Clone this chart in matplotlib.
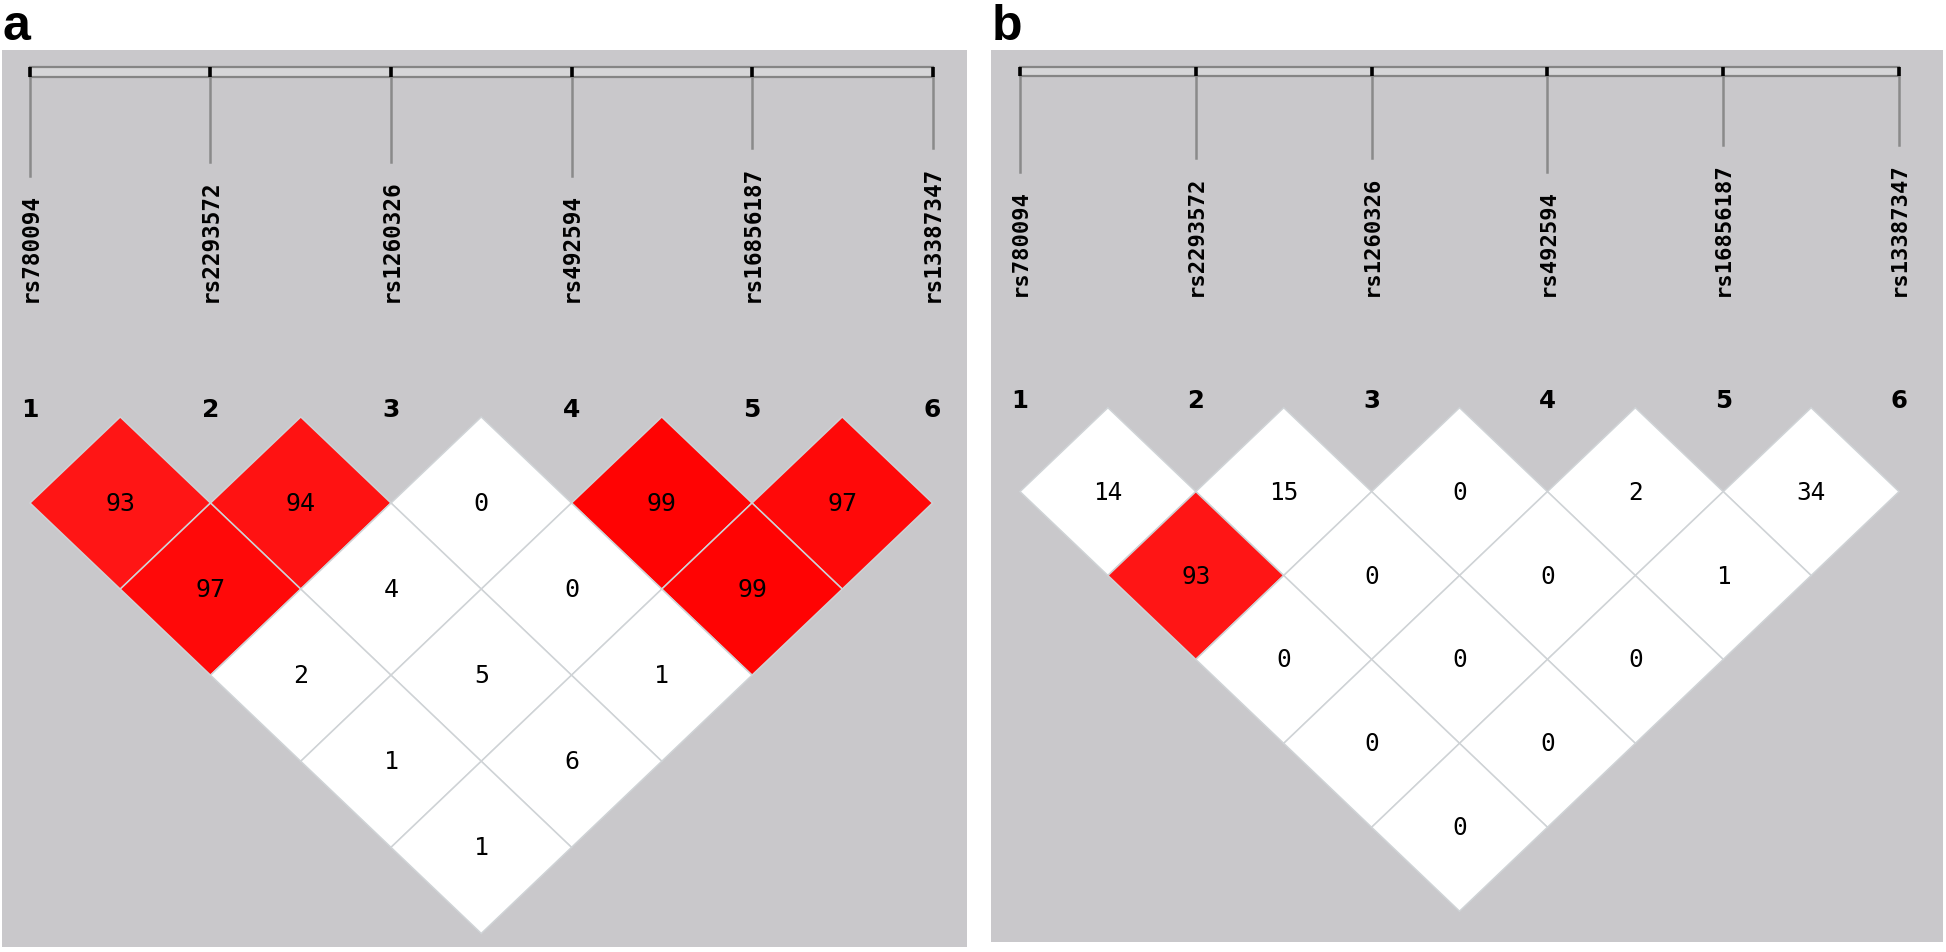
import matplotlib
matplotlib.use("Agg")
import matplotlib.pyplot as plt
from matplotlib.patches import Polygon, Rectangle

SNPS = ["rs780094", "rs2293572", "rs1260326", "rs492594", "rs16856187", "rs13387347"]
MARKERS = [1, 2, 3, 4, 5, 6]
# D' (x100); row k holds pairs k markers apart: (1,1+k), (2,2+k), ...
DP_A = [[93, 94, 0, 99, 97], [97, 4, 0, 99], [2, 5, 1], [1, 6], [1]]
DP_B = [[14, 15, 0, 2, 34], [93, 0, 0, 1], [0, 0, 0], [0, 0], [0]]
RED_MIN = 90  # cells shown in red (strong LD)

BG = "#c9c8cb"
EDGE = "#cfd3d6"

# geometry, in units of marker spacing (y goes down)
BAR_TOP, BAR_BOT = 0.095, 0.15
LABEL_BOT = 1.39
NUM_Y = 1.99
ROW1 = 2.51
HV = 0.477   # half vertical diagonal
HH = 0.5     # half horizontal diagonal

W, H = 1946, 953
fig = plt.figure(figsize=(W / 100, H / 100), dpi=100)
fig.patch.set_facecolor("white")


def cell_color(v):
    if v < RED_MIN:
        return "white"
    gb = int(255 * (1 - v / 100) * 1.2)
    return "#ff%02x%02x" % (gb, gb)


def draw_panel(rect, dp, xlim, ylim, scale):
    ax = fig.add_axes(rect)
    ax.set_facecolor(BG)
    ax.set_xlim(*xlim)
    ax.set_ylim(*ylim)
    ax.set_xticks([]); ax.set_yticks([])
    for s in ax.spines.values():
        s.set_visible(False)

    # marker bar
    ax.add_patch(Rectangle((MARKERS[0], BAR_TOP), MARKERS[-1] - MARKERS[0], BAR_BOT - BAR_TOP,
                           facecolor="#d6d6d8", edgecolor="#858585", lw=1.6, zorder=2))
    labels = []
    for m, name in zip(MARKERS, SNPS):
        ax.plot([m, m], [BAR_TOP, BAR_BOT], color="black", lw=2.6, zorder=3,
                solid_capstyle="butt")
        t = ax.text(m, LABEL_BOT, name, rotation=90, ha="center", va="bottom",
                    family="DejaVu Sans Mono", fontweight="bold", fontsize=16.3 * scale)
        labels.append(t)
        ax.text(m, NUM_Y, str(m), ha="center", va="center",
                family="DejaVu Sans", fontweight="bold", fontsize=18 * scale)

    # LD diamonds
    for k, row in enumerate(dp, start=1):
        for i, v in enumerate(row, start=1):
            j = i + k
            cx = (MARKERS[i - 1] + MARKERS[j - 1]) / 2
            cy = ROW1 + (k - 1) * HV
            poly = [(cx - HH, cy), (cx, cy - HV), (cx + HH, cy), (cx, cy + HV)]
            ax.add_patch(Polygon(poly, closed=True, facecolor=cell_color(v),
                                 edgecolor=EDGE, lw=1.1, zorder=2))
            ax.text(cx, cy, str(v), ha="center", va="center",
                    family="DejaVu Sans Mono", fontsize=18 * scale, zorder=4)
    return ax, labels


panels = [
    (draw_panel([2 / W, 5 / H, 965 / W, 897 / H], DP_A, (0.845, 6.191), (4.97, 0), 1.0), "a", 3),
    (draw_panel([991 / W, 10 / H, 952 / W, 892 / H], DP_B, (0.835, 6.25), (5.07, 0), 0.975), "b", 992),
]

# drop lines from the bar to just above each rs label
fig.canvas.draw()
r = fig.canvas.get_renderer()
for (ax, labels), tag, px in panels:
    inv = ax.transData.inverted()
    for m, t in zip(MARKERS, labels):
        bb = t.get_window_extent(r)
        top = inv.transform((bb.x0, bb.y1))[1]
        ax.plot([m, m], [BAR_BOT, top - 0.09], color="#8a8a8a", lw=1.8, zorder=1)
    fig.text(px / W, 1 - 40 / H, tag, ha="left", va="baseline",
             family="Liberation Sans", fontweight="bold", fontsize=36)

fig.savefig("out.png", dpi=100, facecolor="white")
